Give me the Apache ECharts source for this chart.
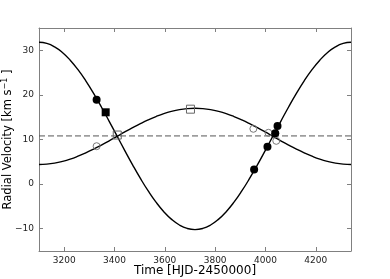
<!DOCTYPE html>
<html>
<head>
<meta charset="utf-8">
<script src="https://cdn.jsdelivr.net/npm/echarts@6/dist/echarts.min.js"></script>
<style>html,body{margin:0;padding:0;background:#fff}#c{width:390px;height:279px}</style>
</head>
<body>
<div id="c"></div>
<script>
// Model curve sample times (HJD-2450000)
const modelTime = [3100,3131,3162,3193,3224,3255,3286,3317,3348,3379,3410,3441,3472,3503,3534,3565,3596,3627,3658,3689,3720,3751,3782,3813,3844,3875,3906,3937,3968,3999,4030,4061,4092,4123,4154,4185,4216,4247,4278,4309,4340];
// Primary model RV curve (km/s)
const primaryModel = [31.80,31.54,30.77,29.51,27.79,25.65,23.14,20.33,17.29,14.08,10.80,7.52,4.31,1.27,-1.54,-4.05,-6.19,-7.91,-9.17,-9.94,-10.20,-9.94,-9.17,-7.91,-6.19,-4.05,-1.54,1.27,4.31,7.52,10.80,14.08,17.29,20.33,23.14,25.65,27.79,29.51,30.77,31.54,31.80];
// Secondary model RV curve (km/s)
const secondaryModel = [4.40,4.48,4.71,5.09,5.60,6.25,7.00,7.84,8.75,9.71,10.70,11.69,12.65,13.56,14.40,15.15,15.80,16.31,16.69,16.92,17.00,16.92,16.69,16.31,15.80,15.15,14.40,13.56,12.65,11.69,10.70,9.71,8.75,7.84,7.00,6.25,5.60,5.09,4.71,4.48,4.40];
// Systemic velocity
const gammaVel = 10.8;
// Observations
const primCircT = [3329,3955,4008,4039,4048];
const primCircV = [18.9,3.3,8.4,11.4,13.0];
const primSqT = [3365];
const primSqV = [16.1];
const secCircT = [3329,3952,4012,4043];
const secCircV = [8.5,12.4,11.5,9.7];
const secSqT = [3411,3702];
const secSqV = [11.0,16.8];
// Ticks
const xTicks = [3200,3400,3600,3800,4000,4200];
const yTicks = [-10,0,10,20,30];
const xRange = [3100,4340];
const yRange = [-15,35];

const zip = (a,b) => a.map((v,i)=>[v,b[i]]);
const FONT = 'DejaVu Sans';
const frame = '#808080';

function axisBase(pos, ticks, range, showLabel){
  return {
    type:'value', position:pos, min:range[0], max:range[1],
    axisLine:{show:true, onZero:false, lineStyle:{color:frame, width:1}},
    axisTick:{show:true, inside:true, length:4, customValues:ticks, lineStyle:{color:frame}},
    axisLabel:{show:showLabel, customValues:ticks, color:'#222', fontFamily:FONT, fontSize:9, margin:5,
      formatter:v=>String(v).replace('-','\u2212')},
    splitLine:{show:false}
  };
}

const chart = echarts.init(document.getElementById('c'));
const xb = axisBase('bottom', xTicks, xRange, true);
xb.name = 'Time [HJD-2450000]';
xb.nameLocation = 'middle';
xb.nameGap = 14;
xb.nameMoveOverlap = false;
xb.nameTextStyle = {fontFamily:FONT, fontSize:12, color:'#000'};
const yl = axisBase('left', yTicks, yRange, true);
yl.name = '{a|Radial Velocity [km s}{s|\u22121}{a| ]}';
yl.nameLocation = 'middle';
yl.nameGap = 23;
yl.nameRotate = 90;
yl.nameMoveOverlap = false;
yl.nameTextStyle = {fontFamily:FONT, fontSize:11.5, color:'#000',
  rich:{a:{fontFamily:FONT, fontSize:11.5, color:'#000'}, s:{fontFamily:FONT, fontSize:8, color:'#000', padding:[0,0,7,0]}}};

chart.setOption({
  animation:false,
  grid:{left:39, right:39, top:28, bottom:28, containLabel:false, outerBoundsMode:'none'},
  xAxis:[xb, axisBase('top', xTicks, xRange, false)],
  yAxis:[yl, axisBase('right', yTicks, yRange, false)],
  series:[
    {type:'line', data:zip(xRange,[gammaVel,gammaVel]), symbol:'none', lineStyle:{color:'#555', width:1, type:[6,3]}, z:1},
    {type:'line', data:zip(modelTime,primaryModel), symbol:'none', smooth:true, lineStyle:{color:'#000', width:1.4}, z:2},
    {type:'line', data:zip(modelTime,secondaryModel), symbol:'none', smooth:true, lineStyle:{color:'#000', width:1.4}, z:2},
    {type:'scatter', data:zip(secCircT,secCircV), symbol:'circle', symbolSize:7, itemStyle:{color:'rgba(0,0,0,0)', borderColor:'#777', borderWidth:1, opacity:1}, z:3},
    {type:'scatter', data:zip(secSqT,secSqV), symbol:'rect', symbolSize:8, itemStyle:{color:'rgba(0,0,0,0)', borderColor:'#666', borderWidth:1, opacity:1}, z:3},
    {type:'scatter', data:zip(primCircT,primCircV), symbol:'circle', symbolSize:8, itemStyle:{color:'#000', opacity:1}, z:4},
    {type:'scatter', data:zip(primSqT,primSqV), symbol:'rect', symbolSize:8, itemStyle:{color:'#000', opacity:1}, z:4}
  ]
});
</script>
</body>
</html>
